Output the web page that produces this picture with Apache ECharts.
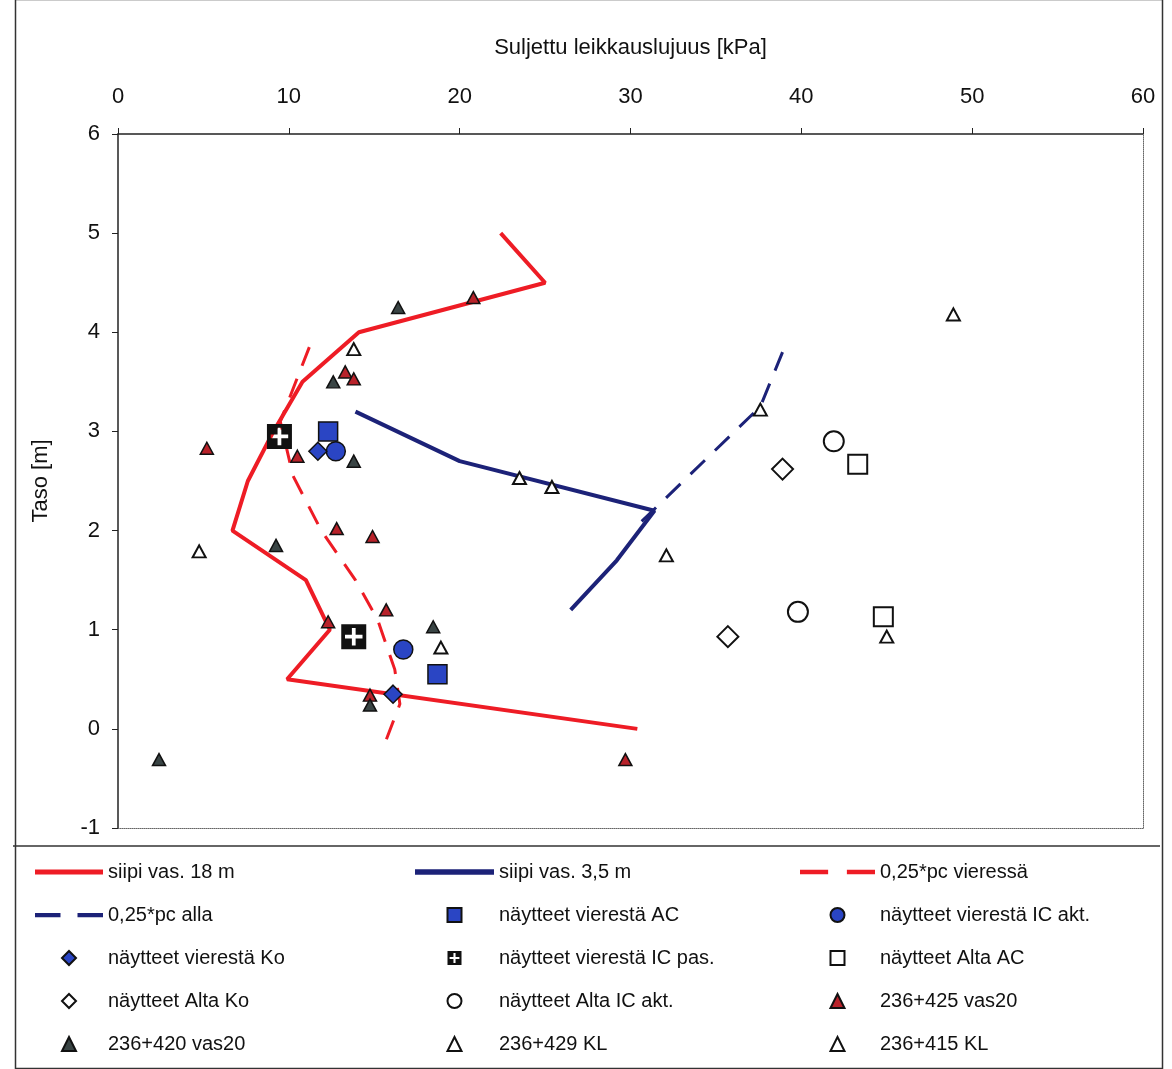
<!DOCTYPE html>
<html>
<head>
<meta charset="utf-8">
<script src="https://cdn.jsdelivr.net/npm/echarts@6/dist/echarts.min.js"></script>
<style>
  html, body { margin: 0; padding: 0; background: #fff; }
  #chart { width: 1172px; height: 1069px; }
</style>
</head>
<body>
<div id="chart"></div>
<script>
// akselit
const xTicks = [0, 10, 20, 30, 40, 50, 60];
const yTicks = [-1, 0, 1, 2, 3, 4, 5, 6];

// viivat: taso [m] ja lujuus [kPa]
const siipi18Levels = [5.0, 4.5, 4.0, 3.5, 3.0, 2.5, 2.0, 1.5, 1.0, 0.5, 0.0];
const siipi18Values = [22.4, 25.0, 14.1, 10.8, 9.1, 7.6, 6.7, 11.0, 12.4, 9.9, 30.4];

const siipi35Levels = [3.2, 2.7, 2.2, 1.7, 1.2];
const siipi35Values = [13.9, 20.0, 31.4, 29.2, 26.5];

const pcVieressaLevels = [3.85, 3.1, 2.55, 2.0, 1.5, 1.1, 0.6, 0.25, -0.2];
const pcVieressaValues = [11.2, 9.5, 10.25, 11.9, 13.9, 15.2, 16.2, 16.5, 15.5];

const pcAllaLevels = [3.8, 3.25, 2.05];
const pcAllaValues = [38.9, 37.6, 30.4];

// näytteet [lujuus, taso]
const vierestaAC = [[12.3, 3.0], [18.7, 0.55]];
const vierestaICakt = [[12.75, 2.8], [16.7, 0.8]];
const vierestaKo = [[11.7, 2.8], [16.1, 0.35]];
const vierestaICpas = [[9.45, 2.95], [13.8, 0.93]];
const altaAC = [[43.3, 2.67], [44.8, 1.13]];
const altaKo = [[38.9, 2.62], [35.7, 0.93]];
const altaICakt = [[41.9, 2.9], [39.8, 1.18]];

// siipikairaukset
const kaira425 = [[20.8, 4.35], [13.3, 3.6], [13.8, 3.53], [5.2, 2.83], [10.5, 2.75],
  [12.8, 2.02], [14.9, 1.94], [15.7, 1.2], [12.3, 1.08], [14.75, 0.34], [29.7, -0.31]];
const kaira420 = [[16.4, 4.25], [12.6, 3.5], [13.8, 2.7], [9.25, 1.85], [18.45, 1.03],
  [14.75, 0.24], [2.4, -0.31]];
const kaira429 = [[13.8, 3.83], [4.75, 1.79], [18.9, 0.82], [23.5, 2.53], [25.4, 2.44]];
const kaira415 = [[37.6, 3.22], [32.1, 1.75], [45.0, 0.93], [48.9, 4.18]];

const legendCol1 = ['siipi vas. 18 m', '0,25*pc alla', 'näytteet vierestä Ko', 'näytteet Alta Ko', '236+420 vas20'];
const legendCol2 = ['siipi vas. 3,5 m', 'näytteet vierestä AC', 'näytteet vierestä IC pas.', 'näytteet Alta IC akt.', '236+429 KL'];
const legendCol3 = ['0,25*pc vieressä', 'näytteet vierestä IC akt.', 'näytteet Alta AC', '236+425 vas20', '236+415 KL'];

const pair = (vals, levels) => vals.map((v, i) => [v, levels[i]]);

// symbolit polkuina, jotta selitteessä säilyy muoto
const plusSquare = 'path://M0 0 L20 0 L20 20 L0 20 Z M8.5 3 L8.5 8.5 L3 8.5 L3 11.5 L8.5 11.5 L8.5 17 L11.5 17 L11.5 11.5 L17 11.5 L17 8.5 L11.5 8.5 L11.5 3 Z';
const ICONS = {
  rect: 'path://M0 0H10V10H0Z',
  diamond: 'path://M5 0L10 5L5 10L0 5Z',
  triangle: 'path://M5 0L10 10L0 10Z',
  line: 'path://M0 0H70V5H0Z',
  dash: 'path://M0 0H24V4H0Z M40 0H64V4H40Z'
};

const FONT = 'Liberation Sans, Arial, sans-serif';
const RED = '#ee1c25';
const NAVY = '#1c2278';
const BLUE = '#2a45c4';

const chart = echarts.init(document.getElementById('chart'));

const legendIcon = {};

const lineSeries = (name, data, color, width, dashed) => {
  legendIcon[name] = dashed ? ICONS.dash : ICONS.line;
  return {
    name, type: 'line', data, symbol: 'none', showSymbol: false, z: 2,
    lineStyle: dashed ? { color, width, type: [20, 14] } : { color, width },
    itemStyle: { color }
  };
};

const scatter = (name, data, symbol, size, fill, border, bw) => {
  legendIcon[name] = ICONS[symbol] || (symbol === 'circle' ? 'circle' : symbol);
  return {
    name, type: 'scatter', data, symbol, symbolSize: size, z: 3,
    itemStyle: { color: fill, borderColor: border, borderWidth: bw, opacity: 1 }
  };
};

const series = [
  lineSeries('siipi vas. 18 m', pair(siipi18Values, siipi18Levels), RED, 4, false),
  lineSeries('siipi vas. 3,5 m', pair(siipi35Values, siipi35Levels), NAVY, 4, false),
  lineSeries('0,25*pc vieressä', pair(pcVieressaValues, pcVieressaLevels), RED, 3, true),
  lineSeries('0,25*pc alla', pair(pcAllaValues, pcAllaLevels), NAVY, 3, true),
  scatter('näytteet vierestä AC', vierestaAC, 'rect', 19, BLUE, '#111', 1.5),
  scatter('näytteet vierestä IC akt.', vierestaICakt, 'circle', 19, BLUE, '#111', 1.5),
  scatter('näytteet vierestä Ko', vierestaKo, 'diamond', 18, BLUE, '#111', 1.5),
  scatter('näytteet vierestä IC pas.', vierestaICpas, plusSquare, 25, '#111', '#111', 0),
  scatter('näytteet Alta AC', altaAC, 'rect', 19, '#fff', '#111', 2),
  scatter('näytteet Alta Ko', altaKo, 'diamond', 21, '#fff', '#111', 2),
  scatter('näytteet Alta IC akt.', altaICakt, 'circle', 20, '#fff', '#111', 2),
  scatter('236+425 vas20', kaira425, 'triangle', [13, 12], '#b8222a', '#111', 1.5),
  scatter('236+420 vas20', kaira420, 'triangle', [13, 12], '#394444', '#111', 1.5),
  scatter('236+429 KL', kaira429, 'triangle', [13, 12], '#fff', '#111', 2),
  scatter('236+415 KL', kaira415, 'triangle', [13, 12], '#fff', '#111', 2)
];

const legendData = names => names.map(name => ({ name, icon: legendIcon[name] }));

const legendBase = {
  orient: 'vertical',
  top: 861,
  padding: 0,
  itemHeight: 14,
  itemGap: 21,
  selectedMode: false,
  symbolKeepAspect: true,
  textStyle: { fontFamily: FONT, fontSize: 20, color: '#111', lineHeight: 22 }
};

const option = {
  backgroundColor: '#fff',
  animation: false,
  textStyle: { fontFamily: FONT },
  grid: { left: 118, top: 134, width: 1025, height: 694 },
  xAxis: [{
    type: 'value', position: 'top', min: xTicks[0], max: xTicks[xTicks.length - 1], interval: 10,
    name: 'Suljettu leikkauslujuus [kPa]', nameLocation: 'middle', nameGap: 75,
    nameTextStyle: { fontFamily: FONT, fontSize: 22, color: '#111' },
    axisLine: { show: true, onZero: false, lineStyle: { color: '#222', width: 1.5 } },
    axisTick: { show: true, inside: false, length: 6, lineStyle: { color: '#222' } },
    axisLabel: { fontFamily: FONT, fontSize: 22, color: '#111', margin: 26 },
    splitLine: { show: false }
  }, {
    type: 'value', position: 'bottom', min: 0, max: 60,
    axisLine: { show: true, onZero: false, lineStyle: { color: '#666', width: 1, type: 'dotted' } },
    axisTick: { show: false }, axisLabel: { show: false }, splitLine: { show: false }
  }],
  yAxis: [{
    type: 'value', min: yTicks[0], max: yTicks[yTicks.length - 1], interval: 1,
    name: 'Taso [m]', nameLocation: 'middle', nameGap: 66,
    nameTextStyle: { fontFamily: FONT, fontSize: 22, color: '#111' },
    axisLine: { show: true, onZero: false, lineStyle: { color: '#222', width: 1.5 } },
    axisTick: { show: true, length: 6, lineStyle: { color: '#222' } },
    axisLabel: { fontFamily: FONT, fontSize: 22, color: '#111', margin: 18 },
    splitLine: { show: false }
  }, {
    type: 'value', position: 'right', min: -1, max: 6,
    axisLine: { show: true, onZero: false, lineStyle: { color: '#666', width: 1, type: 'dotted' } },
    axisTick: { show: false }, axisLabel: { show: false }, splitLine: { show: false }
  }],
  legend: [
    Object.assign({}, legendBase, { left: 35, itemWidth: 68, data: legendData(legendCol1) }),
    Object.assign({}, legendBase, { left: 415, itemWidth: 79, data: legendData(legendCol2) }),
    Object.assign({}, legendBase, { left: 800, itemWidth: 75, data: legendData(legendCol3) })
  ],
  graphic: [
    { type: 'rect', left: 13, top: -3, shape: { width: 1147, height: 1069 },
      style: { fill: 'none', stroke: '#333', lineWidth: 1.5 }, silent: true },
    { type: 'line', shape: { x1: 13, y1: 846, x2: 1160, y2: 846 },
      style: { stroke: '#333', lineWidth: 1.5 }, silent: true }
  ],
  series
};

chart.setOption(option);
</script>
</body>
</html>
